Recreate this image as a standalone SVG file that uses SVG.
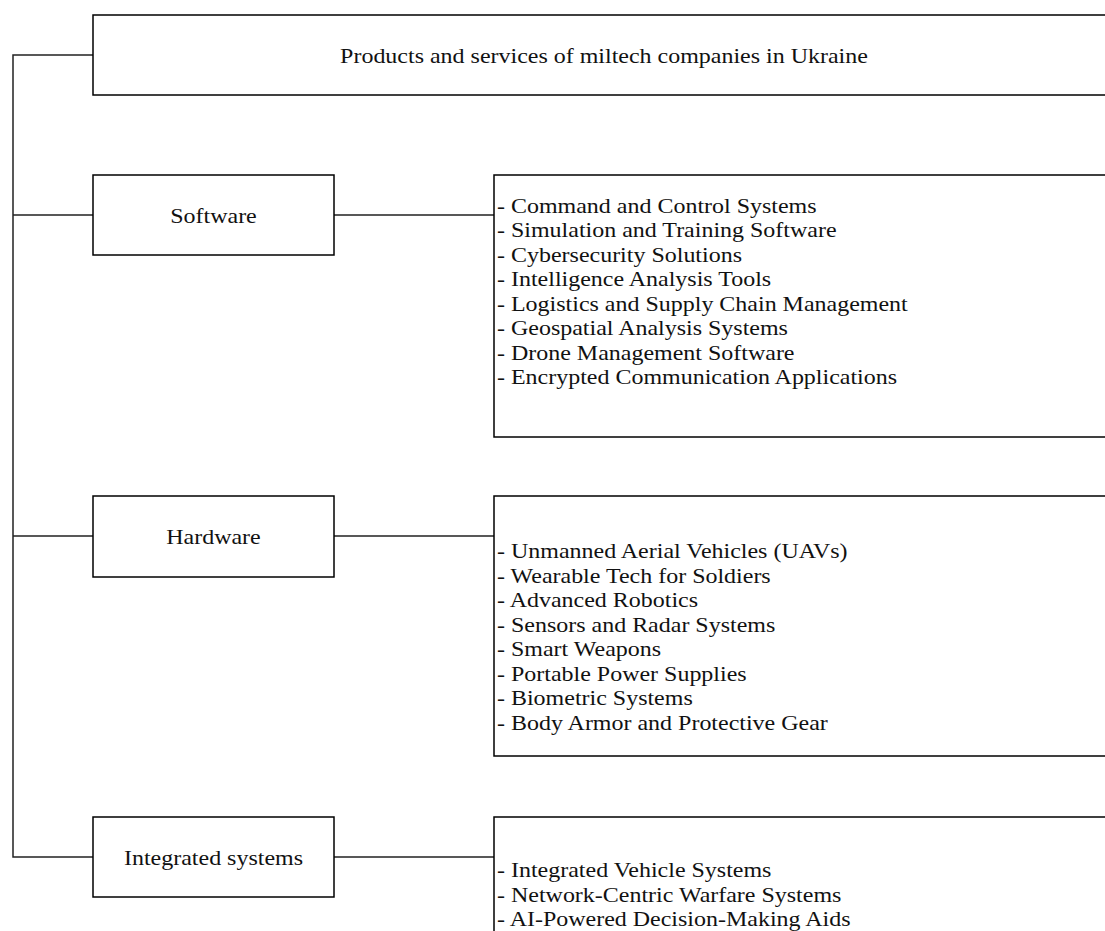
<svg xmlns="http://www.w3.org/2000/svg" width="1105" height="931" viewBox="0 0 1105 931">
<style>
.box{fill:#fff;stroke:#000;stroke-width:1.5}
.lbl{font-family:"Liberation Serif","Times New Roman",serif;font-size:22px;fill:#111}
.c{text-anchor:middle;dominant-baseline:central}
.conn{stroke:#222;stroke-width:1.5;fill:none}
</style>
<rect width="1105" height="931" fill="#fff"/>
<g id="connectors">
<path class="conn" d="M93 55H13V857H93"/>
<path class="conn" d="M13 215H93M13 536H93"/>
<path class="conn" d="M334 215H494M334 536H494M334 857H494"/>
</g>
<g id="title">
<rect class="box" x="93" y="15" width="1030" height="80"/>
<text class="lbl c" transform="translate(604,55) scale(1.09,1)" x="0" y="0">Products and services of miltech companies in Ukraine</text>
</g>
<g id="software">
<rect class="box" x="93" y="175" width="241" height="80"/>
<text class="lbl c" transform="translate(213.5,215) scale(1.09,1)" x="0" y="0">Software</text>
</g>
<g id="software-list">
<rect class="box" x="494" y="175" width="630" height="262"/>
<text class="lbl" transform="translate(497,0) scale(1.09,1)">
<tspan x="0" y="213">- Command and Control Systems</tspan>
<tspan x="0" y="237.5">- Simulation and Training Software</tspan>
<tspan x="0" y="262">- Cybersecurity Solutions</tspan>
<tspan x="0" y="286.5">- Intelligence Analysis Tools</tspan>
<tspan x="0" y="311">- Logistics and Supply Chain Management</tspan>
<tspan x="0" y="335.5">- Geospatial Analysis Systems</tspan>
<tspan x="0" y="360">- Drone Management Software</tspan>
<tspan x="0" y="384.5">- Encrypted Communication Applications</tspan>
</text>
</g>
<g id="hardware">
<rect class="box" x="93" y="496" width="241" height="81"/>
<text class="lbl c" transform="translate(213.5,536) scale(1.09,1)" x="0" y="0">Hardware</text>
</g>
<g id="hardware-list">
<rect class="box" x="494" y="496" width="630" height="260"/>
<text class="lbl" transform="translate(497,0) scale(1.09,1)">
<tspan x="0" y="558.5">- Unmanned Aerial Vehicles (UAVs)</tspan>
<tspan x="0" y="583">- Wearable Tech for Soldiers</tspan>
<tspan x="0" y="607.5">- Advanced Robotics</tspan>
<tspan x="0" y="632">- Sensors and Radar Systems</tspan>
<tspan x="0" y="656.5">- Smart Weapons</tspan>
<tspan x="0" y="681">- Portable Power Supplies</tspan>
<tspan x="0" y="705.5">- Biometric Systems</tspan>
<tspan x="0" y="730">- Body Armor and Protective Gear</tspan>
</text>
</g>
<g id="integrated">
<rect class="box" x="93" y="817" width="241" height="80"/>
<text class="lbl c" transform="translate(213.5,857) scale(1.09,1)" x="0" y="0">Integrated systems</text>
</g>
<g id="integrated-list">
<rect class="box" x="494" y="817" width="630" height="140"/>
<text class="lbl" transform="translate(497,0) scale(1.09,1)">
<tspan x="0" y="877.5">- Integrated Vehicle Systems</tspan>
<tspan x="0" y="901.8">- Network-Centric Warfare Systems</tspan>
<tspan x="0" y="926.1">- AI-Powered Decision-Making Aids</tspan>
</text>
</g>
</svg>
